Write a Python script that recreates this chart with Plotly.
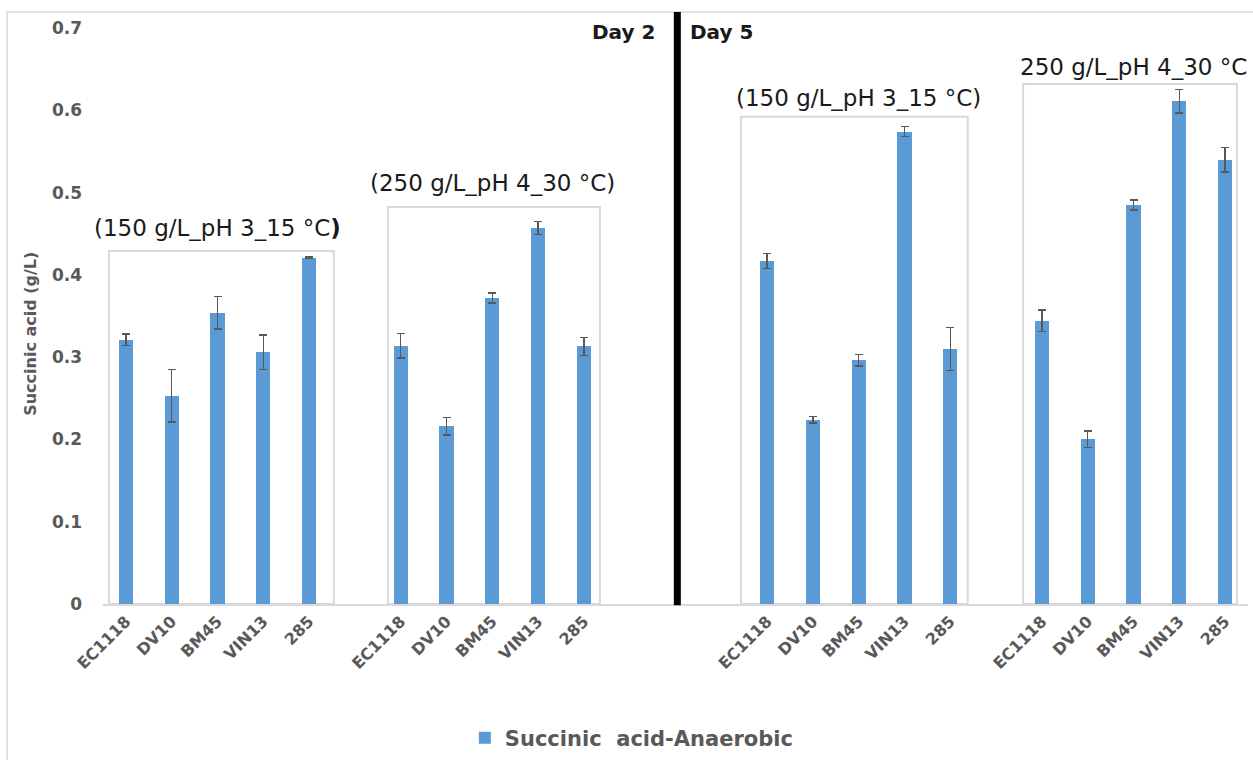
import plotly.graph_objects as go

# ---------------- data ----------------
strains = ["EC1118", "DV10", "BM45", "VIN13", "285"]
group_names = ["(150 g/L_pH 3_15 °C<b>)</b>", "(250 g/L_pH 4_30 °C)",
               "(150 g/L_pH 3_15 °C)", "250 g/L_pH 4_30 °C"]
day_labels = ["Day 2", "Day 5"]
series_name = "Succinic\u00a0 acid-Anaerobic"

day2_150_values = [0.321, 0.253, 0.354, 0.306, 0.421]
day2_150_errors = [0.007, 0.032, 0.020, 0.021, 0.001]
day2_250_values = [0.314, 0.216, 0.372, 0.457, 0.313]
day2_250_errors = [0.015, 0.0105, 0.006, 0.008, 0.011]
day5_150_values = [0.417, 0.224, 0.296, 0.574, 0.310]
day5_150_errors = [0.009, 0.004, 0.007, 0.006, 0.026]
day5_250_values = [0.344, 0.200, 0.485, 0.611, 0.540]
day5_250_errors = [0.013, 0.010, 0.006, 0.014, 0.015]

y_ticks = [0, 0.1, 0.2, 0.3, 0.4, 0.5, 0.6, 0.7]

# ---------------- layout helpers ----------------
group_start = [0, 6, 14, 20]          # category slot of first bar of each group
divider_slot = 12
box_extent = [(-0.37, 4.54), (-0.28, 4.35), (-0.57, 4.38), (-0.41, 4.26)]
box_top = [0.429, 0.4824, 0.592, 0.632]
label_y = [0.457, 0.5116, 0.615, 0.6526]

groups_vals = [day2_150_values, day2_250_values, day5_150_values, day5_250_values]
groups_errs = [day2_150_errors, day2_250_errors, day5_150_errors, day5_250_errors]

xs, ys, es, tt = [], [], [], []
for g, start in enumerate(group_start):
    for i, s in enumerate(strains):
        xs.append(start + i)
        ys.append(groups_vals[g][i])
        es.append(groups_errs[g][i])
        tt.append(s)

GREY = "#595959"
BOX = "#d9d9d9"
FONT = "DejaVu Sans"

fig = go.Figure()
fig.add_trace(go.Bar(
    x=xs, y=ys, width=0.31, name="<b>" + series_name + "</b>",
    marker=dict(color="#5b9bd5", line=dict(width=0)),
    error_y=dict(type="data", array=es, visible=True, color=GREY,
                 thickness=1.5, width=4),
    showlegend=True,
))

shapes = []
# outer chart border
shapes.append(dict(type="rect", xref="paper", yref="paper",
                   x0=-0.0838, x1=1.0122, y0=-0.288, y1=1.0278,
                   line=dict(color=BOX, width=1.5), layer="below"))
# group boxes
for g, start in enumerate(group_start):
    shapes.append(dict(type="rect", xref="x", yref="y",
                       x0=start + box_extent[g][0], x1=start + box_extent[g][1],
                       y0=0, y1=box_top[g],
                       line=dict(color=BOX, width=2), layer="below"))
# divider line
shapes.append(dict(type="line", xref="x", yref="paper",
                   x0=divider_slot + 0.04, x1=divider_slot + 0.04, y0=-0.002, y1=1.0278,
                   line=dict(color="black", width=7)))

annotations = []
for g, start in enumerate(group_start):
    annotations.append(dict(x=start + 2, y=label_y[g], xref="x", yref="y",
                            text=group_names[g], showarrow=False,
                            xanchor="center", yanchor="middle",
                            font=dict(family=FONT, size=23, color="#1a1a1a")))
annotations.append(dict(x=divider_slot - 0.41, y=0.695, xref="x", yref="y",
                        text="<b>" + day_labels[0] + "</b>", showarrow=False,
                        xanchor="right", yanchor="middle",
                        font=dict(family=FONT, size=20, color="#1a1a1a")))
annotations.append(dict(x=divider_slot + 0.27, y=0.695, xref="x", yref="y",
                        text="<b>" + day_labels[1] + "</b>", showarrow=False,
                        xanchor="left", yanchor="middle",
                        font=dict(family=FONT, size=20, color="#1a1a1a")))
annotations.append(dict(x=-0.0629, y=0.469, xref="paper", yref="paper",
                        text="<b>Succinic acid (g/L)</b>", textangle=-90,
                        showarrow=False, xanchor="center", yanchor="middle",
                        font=dict(family=FONT, size=16, color=GREY)))

fig.update_layout(
    width=1253, height=760,
    margin=dict(l=103, r=5, t=28, b=156, autoexpand=False),
    paper_bgcolor="white", plot_bgcolor="white",
    font=dict(family=FONT, color=GREY),
    shapes=shapes, annotations=annotations,
    bargap=0,
    legend=dict(orientation="h", x=0.316, y=-0.2326, xanchor="left", yanchor="middle",
                font=dict(family=FONT, size=21, color=GREY),
                bgcolor="rgba(0,0,0,0)"),
    xaxis=dict(range=[-0.5, 24.5], tickmode="array", tickvals=xs,
               ticktext=["<b>" + t + "</b>" for t in tt], tickangle=-45,
               tickfont=dict(family=FONT, size=16, color=GREY),
               showgrid=False, zeroline=False, showline=True,
               linecolor=BOX, linewidth=1.5, ticks="", automargin=False),
    yaxis=dict(range=[0, 0.7], tickmode="array", tickvals=y_ticks,
               ticktext=["<b>" + str(v) + "</b>" for v in y_ticks],
               tickfont=dict(family=FONT, size=17, color=GREY),
               showgrid=False, zeroline=False, showline=False, ticks="",
               ticklabelstandoff=20, automargin=False),
)

fig.write_html("out.html")
